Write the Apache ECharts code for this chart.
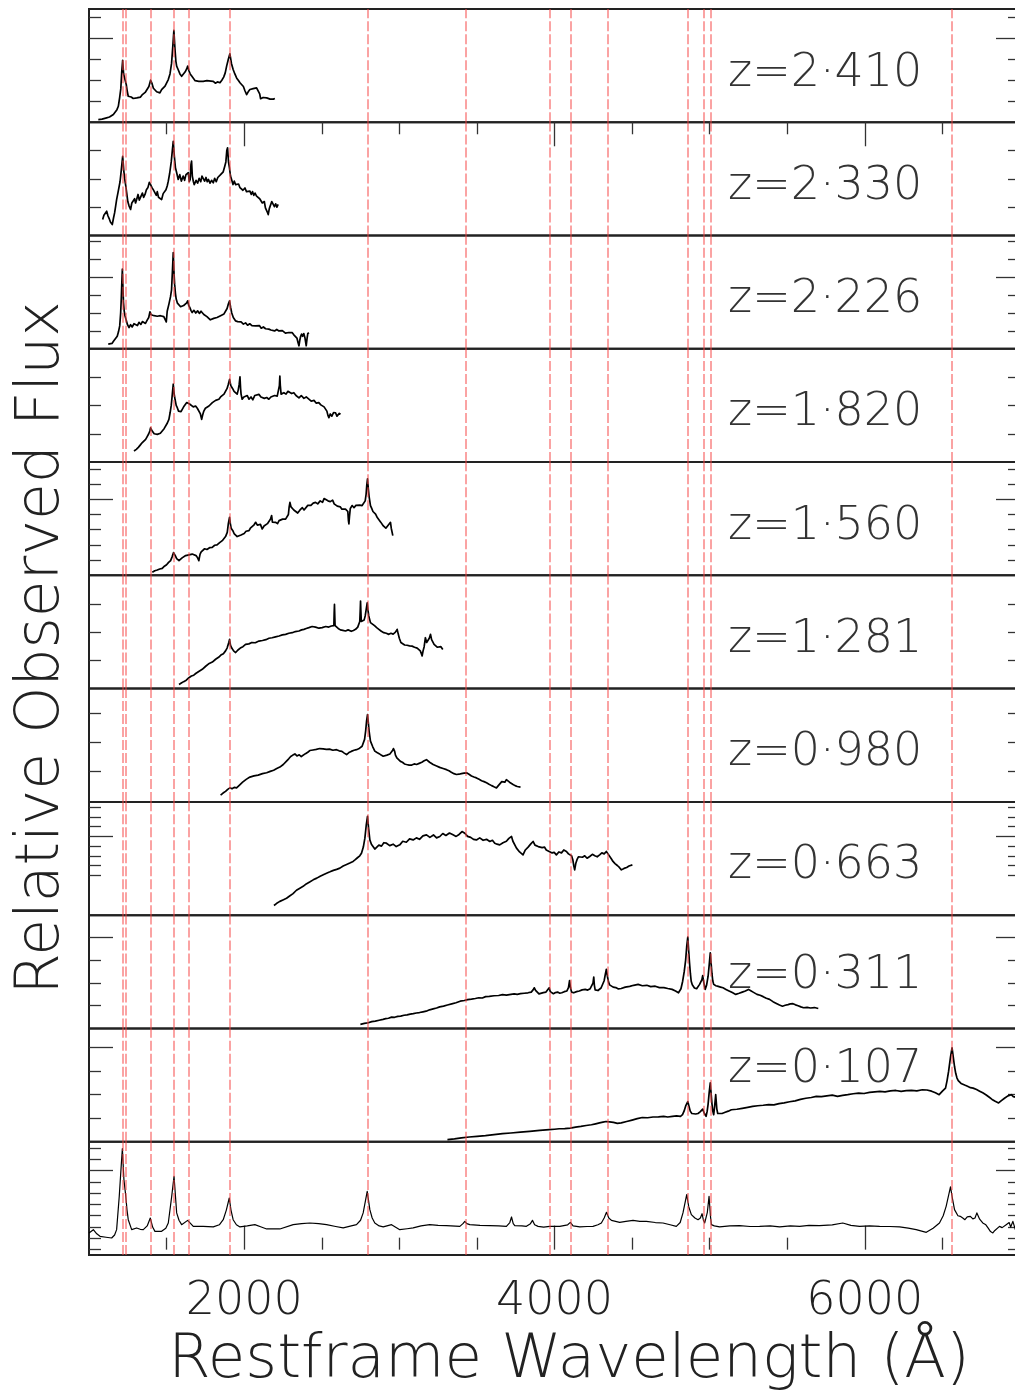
<!DOCTYPE html>
<html>
<head>
<meta charset="utf-8">
<script src="https://cdn.jsdelivr.net/npm/echarts@6/dist/echarts.min.js"></script>
<style>
  html, body { margin: 0; padding: 0; background: #ffffff; overflow: hidden; }
  #chart { width: 1030px; height: 1398px; }
</style>
</head>
<body>
<div id="chart"></div>
<script>
// Redshift of each spectrum, top panel first (the last panel is the composite)
const redshifts = ['2·410', '2·330', '2·226', '1·820', '1·560', '1·281', '0·980', '0·663', '0·311', '0·107', null];

// Restframe wavelength (Å) and relative flux pairs for each spectrum
const spec2410 = [[1060,0.13],[1072,0.18],[1084,0.15],[1096,0.22],[1108,0.2],[1120,0.27],[1132,0.25],[1144,0.33],[1157,0.37],[1168,0.42],[1180,0.6],[1189,0.76],[1198,1.2],[1205,1.6],[1211,2.4],[1217,2.95],[1223,2.3],[1232,2.03],[1240,1.8],[1247,1.45],[1253,1.24],[1262,1.15],[1272,1.2],[1285,1.13],[1296,1.22],[1308,1.16],[1320,1.25],[1332,1.2],[1342,1.3],[1350,1.32],[1362,1.42],[1374,1.5],[1386,1.7],[1397,2.0],[1406,1.85],[1415,1.62],[1425,1.56],[1436,1.45],[1446,1.5],[1457,1.4],[1468,1.55],[1479,1.6],[1490,1.72],[1500,1.8],[1511,2.03],[1522,2.3],[1532,2.8],[1540,3.6],[1547,4.37],[1554,3.5],[1560,2.9],[1565,2.67],[1575,2.5],[1586,2.3],[1597,2.19],[1608,2.28],[1620,2.4],[1630,2.55],[1636,2.67],[1644,2.45],[1652,2.3],[1662,2.2],[1672,2.11],[1684,1.98],[1696,2.05],[1708,1.95],[1720,2.0],[1736,1.95],[1748,1.9],[1760,1.98],[1772,1.9],[1786,1.96],[1801,1.95],[1814,1.86],[1828,1.92],[1844,1.88],[1856,2.0],[1868,2.15],[1878,2.35],[1887,2.67],[1898,3.0],[1908,3.26],[1918,2.8],[1929,2.51],[1940,2.3],[1952,2.1],[1962,2.0],[1973,1.88],[1984,1.85],[1995,1.7],[2005,1.5],[2016,1.32],[2026,1.45],[2037,1.56],[2048,1.5],[2058,1.6],[2069,1.55],[2080,1.64],[2090,1.55],[2100,1.35],[2106,1.12],[2112,1.08],[2122,1.18],[2133,1.1],[2145,1.16],[2156,1.2],[2167,1.1],[2178,1.16],[2188,1.1],[2198,1.13]];
const spec2330 = [[1088,0.57],[1096,0.72],[1104,0.65],[1114,0.86],[1122,0.7],[1130,0.6],[1138,0.48],[1146,0.42],[1150,0.39],[1158,0.62],[1165,0.8],[1172,1.05],[1178,1.27],[1188,1.55],[1200,1.9],[1208,2.3],[1217,2.8],[1224,2.3],[1230,2.0],[1237,1.75],[1243,1.51],[1250,1.2],[1258,1.05],[1268,0.92],[1276,1.15],[1285,1.1],[1294,1.3],[1300,1.15],[1307,1.27],[1316,1.45],[1324,1.25],[1335,1.3],[1344,1.5],[1352,1.35],[1361,1.45],[1370,1.62],[1380,1.7],[1389,1.88],[1397,1.8],[1405,1.7],[1414,1.62],[1425,1.57],[1434,1.42],[1440,1.55],[1448,1.35],[1458,1.38],[1468,1.27],[1478,1.48],[1486,1.42],[1496,1.62],[1504,1.75],[1511,1.92],[1520,2.2],[1530,2.6],[1537,3.0],[1543,3.33],[1550,2.8],[1557,2.4],[1565,2.22],[1575,1.98],[1585,2.15],[1595,1.92],[1607,2.1],[1616,1.95],[1625,2.15],[1633,2.08],[1640,2.22],[1646,1.9],[1652,1.98],[1657,2.5],[1661,2.63],[1666,2.1],[1672,1.92],[1678,1.8],[1683,1.74],[1690,1.95],[1700,1.85],[1710,2.02],[1720,1.9],[1728,2.1],[1736,2.04],[1745,1.92],[1754,2.05],[1762,1.9],[1770,1.98],[1780,1.85],[1790,1.95],[1801,1.86],[1810,2.02],[1820,1.9],[1830,2.05],[1840,1.98],[1848,2.15],[1855,2.1],[1865,2.25],[1875,2.45],[1882,2.6],[1888,3.0],[1893,3.1],[1899,2.6],[1905,2.4],[1912,2.1],[1919,1.98],[1928,1.8],[1936,1.92],[1945,1.8],[1954,1.75],[1964,1.82],[1973,1.69],[1982,1.72],[1992,1.6],[2005,1.68],[2015,1.55],[2026,1.62],[2037,1.57],[2046,1.45],[2054,1.55],[2062,1.42],[2070,1.5],[2080,1.39],[2090,1.42],[2100,1.3],[2110,1.35],[2117,1.15],[2123,1.1],[2130,1.2],[2137,0.98],[2145,0.95],[2150,0.82],[2155,0.74],[2162,0.95],[2170,1.0],[2178,1.2],[2187,1.16],[2195,1.02],[2203,1.12],[2211,1.0],[2219,1.1]];
const spec2226 = [[1124,0.26],[1136,0.35],[1148,0.3],[1160,0.45],[1172,0.54],[1182,0.7],[1190,0.95],[1198,1.28],[1204,2.0],[1208,2.8],[1212,3.8],[1215,4.45],[1218,3.6],[1222,2.6],[1227,2.1],[1232,1.84],[1240,1.6],[1248,1.35],[1258,1.19],[1268,1.35],[1278,1.22],[1290,1.4],[1301,1.38],[1312,1.3],[1322,1.48],[1334,1.36],[1344,1.52],[1354,1.47],[1364,1.42],[1375,1.6],[1385,1.75],[1393,2.07],[1401,1.9],[1410,2.0],[1420,1.85],[1430,1.95],[1440,1.82],[1450,1.9],[1460,1.85],[1470,1.92],[1482,1.8],[1494,1.84],[1498,1.5],[1504,2.1],[1515,2.5],[1525,2.9],[1532,3.3],[1538,4.4],[1543,5.38],[1548,4.2],[1552,3.6],[1557,3.1],[1562,2.78],[1570,2.55],[1580,2.5],[1590,2.35],[1601,2.31],[1610,2.42],[1620,2.45],[1628,2.55],[1636,2.68],[1643,2.42],[1650,2.3],[1657,2.15],[1665,2.03],[1676,2.15],[1688,2.0],[1700,2.12],[1712,1.98],[1722,2.1],[1730,2.03],[1740,1.92],[1750,1.98],[1760,1.8],[1770,1.72],[1782,1.62],[1794,1.56],[1804,1.7],[1814,1.62],[1825,1.75],[1836,1.68],[1848,1.85],[1859,1.84],[1870,1.95],[1880,2.05],[1890,2.25],[1898,2.5],[1906,2.68],[1913,2.3],[1920,2.0],[1930,1.75],[1945,1.56],[1958,1.52],[1968,1.42],[1980,1.5],[1995,1.38],[2009,1.45],[2022,1.32],[2036,1.4],[2050,1.3],[2062,1.38],[2074,1.28],[2086,1.22],[2098,1.3],[2110,1.15],[2124,1.22],[2138,1.12],[2150,1.18],[2159,1.1],[2172,1.05],[2184,1.12],[2196,1.0],[2210,1.08],[2224,1.0],[2236,0.92],[2246,1.02],[2255,0.95],[2266,0.88],[2278,0.98],[2288,0.91],[2300,0.8],[2310,0.9],[2320,0.78],[2331,0.73],[2340,0.6],[2347,0.35],[2353,0.17],[2358,0.45],[2364,0.7],[2370,0.82],[2376,0.7],[2384,0.85],[2392,0.6],[2400,0.17],[2405,0.55],[2410,0.85],[2417,0.91]];
const spec1820 = [[1290,0.39],[1305,0.45],[1318,0.52],[1330,0.6],[1342,0.68],[1354,0.72],[1365,0.8],[1375,0.9],[1385,1.0],[1392,1.1],[1397,1.21],[1404,1.12],[1412,1.1],[1420,1.0],[1430,1.04],[1440,0.98],[1450,1.05],[1460,1.02],[1472,1.1],[1484,1.18],[1495,1.25],[1505,1.38],[1515,1.51],[1523,1.75],[1530,2.0],[1537,2.4],[1543,2.75],[1549,2.4],[1555,2.2],[1562,2.0],[1569,1.92],[1577,1.8],[1585,1.85],[1593,1.78],[1601,1.86],[1610,1.95],[1620,2.0],[1630,2.1],[1638,2.16],[1648,2.05],[1660,2.05],[1672,1.95],[1687,1.98],[1698,1.9],[1710,1.85],[1718,1.7],[1726,1.51],[1732,1.65],[1740,1.8],[1750,1.9],[1762,1.88],[1773,1.98],[1785,2.0],[1795,2.1],[1805,2.05],[1816,2.18],[1826,2.12],[1837,2.22],[1848,2.3],[1858,2.25],[1870,2.4],[1880,2.45],[1890,2.6],[1898,2.75],[1906,2.92],[1914,2.7],[1925,2.6],[1935,2.5],[1945,2.45],[1955,2.4],[1962,2.55],[1968,2.75],[1973,3.01],[1977,2.6],[1980,2.4],[1987,2.22],[1998,2.3],[2010,2.25],[2020,2.35],[2031,2.22],[2044,2.3],[2056,2.2],[2068,2.35],[2080,2.3],[2095,2.39],[2108,2.3],[2120,2.35],[2130,2.25],[2145,2.28],[2159,2.22],[2172,2.3],[2184,2.25],[2196,2.35],[2206,2.28],[2213,2.33],[2222,2.4],[2227,2.7],[2230,3.04],[2233,2.7],[2238,2.4],[2245,2.33],[2256,2.45],[2270,2.4],[2282,2.5],[2293,2.51],[2306,2.42],[2320,2.45],[2334,2.35],[2353,2.27],[2368,2.35],[2385,2.25],[2400,2.3],[2417,2.22],[2432,2.15],[2450,2.18],[2465,2.08],[2481,2.1],[2494,2.02],[2505,2.05],[2515,1.95],[2525,1.92],[2533,1.8],[2540,1.65],[2546,1.57],[2555,1.7],[2565,1.62],[2576,1.75],[2589,1.74],[2598,1.62],[2605,1.6],[2613,1.72],[2621,1.69]];
const spec1560 = [[1408,0.2],[1424,0.3],[1440,0.35],[1456,0.42],[1472,0.46],[1486,0.6],[1500,0.7],[1513,0.85],[1526,0.97],[1535,1.2],[1540,1.3],[1545,1.5],[1549,1.62],[1556,1.3],[1565,1.1],[1572,1.05],[1580,0.97],[1590,1.1],[1600,1.15],[1612,1.25],[1623,1.3],[1634,1.25],[1645,1.35],[1655,1.45],[1665,1.4],[1677,1.35],[1690,1.3],[1700,1.15],[1708,0.97],[1712,1.2],[1716,1.4],[1723,1.55],[1730,1.62],[1745,1.75],[1760,1.7],[1777,1.82],[1794,1.84],[1810,1.98],[1825,2.0],[1842,2.15],[1859,2.28],[1870,2.4],[1880,2.55],[1891,2.83],[1898,3.4],[1906,3.82],[1911,3.4],[1916,3.1],[1927,2.94],[1935,2.75],[1945,2.7],[1955,2.55],[1966,2.5],[1980,2.65],[1990,2.6],[2000,2.75],[2012,2.9],[2022,2.8],[2031,2.94],[2040,3.1],[2050,3.2],[2062,3.3],[2074,3.49],[2085,3.3],[2095,3.2],[2105,3.35],[2116,3.05],[2128,3.25],[2140,3.3],[2150,3.4],[2162,3.5],[2170,3.7],[2177,3.93],[2182,3.5],[2190,3.4],[2202,3.49],[2215,3.4],[2225,3.6],[2235,3.55],[2248,3.7],[2258,3.6],[2267,3.7],[2276,3.8],[2285,4.0],[2290,4.5],[2295,4.8],[2302,4.5],[2310,4.4],[2320,4.3],[2331,4.26],[2345,4.1],[2360,4.3],[2375,4.45],[2386,4.3],[2396,4.36],[2410,4.6],[2420,4.5],[2430,4.6],[2445,4.75],[2460,4.8],[2474,4.7],[2490,4.9],[2505,4.8],[2515,5.05],[2525,5.02],[2540,4.9],[2555,4.85],[2570,4.95],[2580,4.7],[2589,4.69],[2600,4.55],[2610,4.65],[2620,4.5],[2630,4.35],[2642,4.45],[2653,4.36],[2662,4.3],[2668,4.2],[2672,3.6],[2675,3.38],[2679,3.9],[2684,4.4],[2696,4.59],[2708,4.45],[2720,4.6],[2730,4.5],[2745,4.62],[2760,4.59],[2772,4.7],[2780,4.9],[2786,5.35],[2790,5.9],[2795,6.34],[2800,5.7],[2805,5.2],[2814,4.59],[2822,4.4],[2830,4.2],[2840,4.1],[2847,4.03],[2858,3.8],[2870,3.7],[2880,3.5],[2889,3.38],[2897,3.25],[2905,3.2],[2913,3.1],[2921,3.05],[2928,3.3],[2935,3.4],[2943,3.49],[2948,3.1],[2953,3.2],[2958,2.61]];
const spec1281 = [[1580,0.15],[1595,0.2],[1610,0.25],[1627,0.3],[1644,0.39],[1660,0.45],[1675,0.48],[1690,0.55],[1710,0.62],[1730,0.69],[1752,0.8],[1775,0.9],[1795,0.95],[1816,1.05],[1835,1.12],[1850,1.2],[1866,1.25],[1880,1.35],[1890,1.45],[1895,1.5],[1901,1.65],[1906,1.76],[1912,1.55],[1920,1.45],[1932,1.35],[1945,1.29],[1960,1.38],[1975,1.45],[1992,1.5],[2009,1.58],[2030,1.6],[2050,1.65],[2072,1.64],[2095,1.7],[2118,1.72],[2140,1.75],[2160,1.8],[2180,1.82],[2202,1.85],[2225,1.88],[2246,1.92],[2267,1.94],[2288,1.98],[2310,2.0],[2330,2.04],[2353,2.06],[2370,2.1],[2385,2.12],[2400,2.15],[2417,2.18],[2438,2.22],[2460,2.2],[2482,2.16],[2503,2.18],[2525,2.22],[2545,2.2],[2562,2.24],[2578,2.25],[2580,2.7],[2582,3.01],[2584,2.6],[2586,2.25],[2593,2.18],[2606,2.15],[2620,2.1],[2636,2.08],[2653,2.06],[2670,2.1],[2690,2.05],[2704,2.08],[2718,2.12],[2732,2.2],[2745,2.4],[2748,2.8],[2750,3.13],[2752,2.8],[2755,2.4],[2765,2.36],[2773,2.45],[2780,2.6],[2787,2.85],[2793,3.07],[2798,2.8],[2803,2.6],[2814,2.36],[2826,2.3],[2840,2.25],[2854,2.18],[2868,2.12],[2884,2.05],[2900,2.0],[2916,1.98],[2932,1.94],[2946,1.98],[2960,1.95],[2975,2.02],[2986,2.12],[2993,1.95],[3000,1.8],[3010,1.65],[3018,1.58],[3034,1.56],[3050,1.55],[3066,1.53],[3082,1.52],[3098,1.48],[3115,1.45],[3125,1.4],[3135,1.35],[3142,1.25],[3147,1.17],[3153,1.35],[3160,1.5],[3168,1.82],[3176,1.65],[3185,1.6],[3193,1.8],[3201,1.94],[3208,1.75],[3215,1.7],[3224,1.58],[3233,1.52],[3244,1.48],[3255,1.45],[3268,1.5],[3280,1.4]];
const spec0980 = [[1848,0.15],[1864,0.22],[1880,0.28],[1894,0.35],[1908,0.4],[1922,0.37],[1936,0.42],[1951,0.4],[1970,0.5],[1990,0.6],[2013,0.7],[2037,0.78],[2063,0.82],[2090,0.85],[2118,0.9],[2145,0.93],[2168,0.98],[2190,1.02],[2210,1.08],[2230,1.13],[2252,1.22],[2273,1.34],[2287,1.42],[2300,1.5],[2314,1.55],[2327,1.59],[2340,1.52],[2355,1.56],[2368,1.5],[2380,1.51],[2395,1.6],[2410,1.65],[2423,1.71],[2444,1.73],[2465,1.75],[2487,1.78],[2509,1.77],[2530,1.75],[2550,1.76],[2572,1.72],[2595,1.74],[2612,1.7],[2630,1.68],[2645,1.62],[2660,1.57],[2675,1.64],[2690,1.68],[2708,1.72],[2724,1.74],[2738,1.77],[2750,1.8],[2760,1.86],[2767,1.92],[2776,2.1],[2783,2.4],[2789,2.75],[2795,2.97],[2800,2.7],[2805,2.4],[2810,2.2],[2814,2.04],[2828,1.85],[2842,1.69],[2856,1.64],[2870,1.6],[2883,1.55],[2896,1.51],[2908,1.54],[2920,1.55],[2930,1.58],[2939,1.59],[2948,1.62],[2955,1.7],[2962,1.78],[2965,1.83],[2970,1.68],[2975,1.55],[2984,1.45],[2993,1.39],[3007,1.33],[3020,1.3],[3033,1.24],[3046,1.22],[3063,1.2],[3080,1.2],[3096,1.24],[3111,1.22],[3128,1.26],[3145,1.3],[3160,1.35],[3175,1.39],[3185,1.34],[3195,1.3],[3206,1.26],[3218,1.22],[3240,1.17],[3260,1.12],[3282,1.08],[3304,1.04],[3320,1.0],[3335,0.95],[3352,0.9],[3368,0.87],[3384,0.88],[3400,0.9],[3417,0.92],[3433,0.93],[3449,0.88],[3465,0.82],[3481,0.78],[3497,0.75],[3514,0.7],[3530,0.65],[3546,0.62],[3562,0.58],[3578,0.53],[3595,0.48],[3610,0.44],[3626,0.4],[3638,0.48],[3650,0.55],[3660,0.62],[3670,0.65],[3680,0.6],[3690,0.69],[3700,0.64],[3710,0.6],[3721,0.56],[3733,0.52],[3746,0.48],[3760,0.45],[3770,0.5],[3781,0.43]];
const spec0663 = [[2192,0.88],[2210,1.1],[2230,1.3],[2250,1.45],[2273,1.63],[2293,1.85],[2315,2.1],[2337,2.45],[2359,2.66],[2380,2.85],[2400,3.1],[2422,3.3],[2445,3.52],[2468,3.7],[2490,3.9],[2510,4.05],[2531,4.21],[2553,4.35],[2575,4.5],[2596,4.6],[2617,4.73],[2638,4.95],[2660,5.1],[2681,5.25],[2702,5.42],[2716,5.6],[2730,5.8],[2745,6.0],[2756,6.27],[2768,6.9],[2778,7.82],[2787,9.2],[2795,10.06],[2802,8.8],[2810,7.64],[2820,7.2],[2830,7.0],[2842,6.7],[2853,6.79],[2868,7.1],[2885,7.0],[2900,7.35],[2917,7.3],[2938,7.05],[2960,7.2],[2980,6.95],[3003,7.13],[3022,7.5],[3045,7.4],[3066,7.75],[3089,7.64],[3110,7.85],[3130,7.7],[3152,8.05],[3175,8.16],[3197,7.9],[3220,8.15],[3240,7.85],[3261,7.99],[3280,8.3],[3300,8.1],[3323,8.35],[3346,8.16],[3366,8.0],[3385,8.2],[3404,8.5],[3422,8.33],[3440,8.0],[3460,7.9],[3478,7.7],[3497,7.64],[3518,7.85],[3540,7.6],[3562,7.7],[3583,7.48],[3600,7.6],[3615,7.3],[3630,7.2],[3647,7.13],[3668,7.35],[3690,7.5],[3706,7.8],[3723,7.99],[3732,7.5],[3740,7.3],[3755,6.79],[3765,6.7],[3775,6.4],[3786,6.55],[3797,6.1],[3812,6.6],[3830,6.9],[3846,7.2],[3862,7.48],[3874,7.1],[3885,7.2],[3895,6.95],[3905,7.13],[3920,6.85],[3935,6.9],[3947,6.6],[3959,6.61],[3972,6.4],[3985,6.3],[3998,6.35],[4012,6.1],[4028,6.4],[4045,6.3],[4060,6.6],[4077,6.45],[4090,6.2],[4102,6.1],[4110,6.0],[4118,5.6],[4124,5.0],[4130,4.55],[4137,5.2],[4145,5.6],[4154,5.9],[4163,6.1],[4180,5.85],[4195,6.0],[4210,5.75],[4227,5.93],[4244,6.15],[4260,6.0],[4275,5.9],[4291,6.1],[4305,6.3],[4320,6.2],[4334,6.45],[4345,6.2],[4355,6.0],[4366,5.7],[4377,5.42],[4390,5.2],[4405,5.0],[4418,4.8],[4431,4.55],[4448,4.7],[4465,4.8],[4480,4.95],[4490,4.75],[4502,5.07]];
const spec0311 = [[2749,0.18],[2775,0.22],[2800,0.25],[2822,0.3],[2845,0.32],[2870,0.36],[2895,0.4],[2912,0.43],[2930,0.45],[2950,0.5],[2970,0.49],[2990,0.53],[3009,0.54],[3030,0.58],[3050,0.6],[3070,0.63],[3090,0.65],[3110,0.68],[3130,0.7],[3152,0.73],[3173,0.76],[3195,0.82],[3218,0.86],[3240,0.9],[3260,0.95],[3285,0.98],[3310,1.03],[3338,1.08],[3365,1.13],[3392,1.2],[3419,1.23],[3440,1.27],[3465,1.29],[3490,1.32],[3512,1.35],[3535,1.34],[3556,1.4],[3580,1.41],[3610,1.44],[3640,1.45],[3665,1.49],[3690,1.47],[3719,1.5],[3740,1.52],[3760,1.5],[3780,1.53],[3805,1.55],[3829,1.57],[3850,1.6],[3862,1.7],[3870,1.79],[3878,1.68],[3890,1.6],[3900,1.52],[3911,1.54],[3928,1.58],[3945,1.6],[3957,1.66],[3966,1.79],[3973,1.62],[3980,1.55],[3993,1.53],[4006,1.58],[4020,1.6],[4034,1.55],[4047,1.57],[4063,1.62],[4080,1.65],[4090,1.8],[4097,2.11],[4103,1.8],[4110,1.6],[4117,1.55],[4124,1.57],[4142,1.62],[4160,1.65],[4178,1.7],[4198,1.72],[4214,1.69],[4230,1.75],[4242,1.8],[4248,2.0],[4253,2.26],[4257,1.9],[4262,1.7],[4271,1.64],[4280,1.67],[4290,1.7],[4300,1.78],[4307,1.86],[4320,2.1],[4328,2.4],[4334,2.6],[4341,2.3],[4348,2.05],[4355,1.92],[4362,1.86],[4378,1.82],[4395,1.8],[4412,1.74],[4430,1.76],[4456,1.82],[4485,1.85],[4510,1.9],[4539,1.94],[4566,1.88],[4595,1.9],[4620,1.84],[4649,1.86],[4676,1.8],[4705,1.8],[4730,1.76],[4758,1.72],[4770,1.68],[4780,1.65],[4790,1.6],[4799,1.57],[4808,1.62],[4815,1.75],[4826,2.08],[4836,2.5],[4845,3.0],[4852,3.6],[4859,4.02],[4865,3.4],[4870,2.9],[4876,2.4],[4881,2.08],[4888,1.92],[4895,1.85],[4902,1.78],[4908,1.72],[4916,1.75],[4925,1.8],[4935,1.94],[4945,2.0],[4950,2.15],[4955,2.33],[4959,2.15],[4963,2.0],[4967,1.85],[4971,1.72],[4980,1.9],[4990,2.3],[4997,2.8],[5004,3.33],[5010,2.8],[5015,2.4],[5020,2.1],[5026,1.94],[5040,1.88],[5055,1.85],[5070,1.82],[5086,1.79],[5105,1.72],[5125,1.65],[5146,1.58],[5168,1.5],[5190,1.55],[5210,1.6],[5230,1.65],[5250,1.72],[5265,1.66],[5280,1.6],[5292,1.54],[5305,1.5],[5325,1.46],[5345,1.4],[5365,1.33],[5386,1.28],[5408,1.18],[5430,1.1],[5450,1.03],[5469,0.98],[5487,1.02],[5505,1.05],[5520,1.08],[5537,1.09],[5553,1.04],[5570,1.0],[5588,0.95],[5605,0.91],[5628,0.93],[5650,0.9],[5675,0.92],[5700,0.88]];
const spec0107 = [[3310,0.09],[3355,0.12],[3400,0.16],[3450,0.2],[3501,0.23],[3555,0.26],[3610,0.3],[3665,0.34],[3719,0.37],[3780,0.41],[3840,0.44],[3905,0.48],[3966,0.51],[4000,0.53],[4030,0.55],[4066,0.56],[4102,0.58],[4136,0.62],[4170,0.65],[4204,0.69],[4238,0.72],[4265,0.76],[4290,0.8],[4312,0.83],[4332,0.86],[4355,0.84],[4380,0.82],[4405,0.78],[4430,0.8],[4465,0.86],[4500,0.92],[4533,0.98],[4566,1.03],[4600,1.02],[4635,1.05],[4670,1.06],[4703,1.08],[4730,1.05],[4760,1.08],[4786,1.1],[4812,1.08],[4825,1.15],[4835,1.3],[4847,1.55],[4859,1.71],[4867,1.5],[4875,1.3],[4885,1.2],[4895,1.15],[4910,1.18],[4925,1.2],[4940,1.28],[4955,1.39],[4960,1.3],[4966,1.2],[4977,1.08],[4984,1.3],[4990,1.6],[4997,2.1],[5004,2.5],[5010,2.0],[5015,1.6],[5020,1.3],[5026,1.15],[5032,1.5],[5039,2.0],[5046,1.4],[5052,1.2],[5058,1.15],[5080,1.2],[5100,1.25],[5120,1.3],[5140,1.36],[5175,1.38],[5210,1.42],[5245,1.46],[5277,1.5],[5310,1.53],[5345,1.55],[5380,1.58],[5414,1.57],[5447,1.62],[5480,1.65],[5515,1.7],[5551,1.74],[5585,1.8],[5620,1.85],[5655,1.88],[5687,1.93],[5720,1.92],[5755,1.95],[5790,1.98],[5824,1.93],[5857,1.97],[5890,2.0],[5925,2.04],[5960,2.07],[5995,2.05],[6030,2.1],[6064,2.12],[6097,2.14],[6130,2.12],[6165,2.16],[6200,2.18],[6234,2.14],[6267,2.17],[6300,2.18],[6335,2.16],[6371,2.21],[6400,2.2],[6430,2.15],[6455,2.08],[6479,2.0],[6490,2.08],[6500,2.15],[6510,2.2],[6520,2.28],[6530,2.6],[6540,3.0],[6552,3.6],[6562,3.99],[6570,3.6],[6578,3.2],[6586,2.9],[6594,2.71],[6602,2.6],[6610,2.55],[6620,2.48],[6630,2.43],[6647,2.4],[6665,2.35],[6681,2.3],[6698,2.28],[6720,2.22],[6740,2.15],[6760,2.08],[6780,2.0],[6800,1.9],[6820,1.8],[6840,1.72],[6862,1.65],[6880,1.75],[6900,1.85],[6922,1.95],[6944,2.0],[6957,1.92],[6970,1.9],[6985,1.98],[7000,1.95]];
const specComposite = [[1000,1.48],[1028,1.77],[1050,1.4],[1071,1.18],[1110,1.1],[1146,1.03],[1165,1.3],[1178,1.77],[1195,4.72],[1208,7.5],[1215,8.94],[1225,6.2],[1236,4.87],[1245,3.5],[1253,2.65],[1275,1.77],[1307,1.92],[1330,1.8],[1350,1.77],[1375,2.1],[1395,2.8],[1410,2.0],[1425,1.62],[1468,1.62],[1495,1.9],[1511,2.36],[1533,4.72],[1548,6.49],[1565,3.25],[1580,2.6],[1597,2.21],[1636,2.59],[1672,2.06],[1736,2.06],[1801,2.01],[1840,2.2],[1865,2.65],[1885,3.5],[1904,4.57],[1915,3.5],[1929,2.65],[1950,2.2],[1973,2.01],[2020,2.1],[2069,2.21],[2110,2.0],[2145,1.83],[2230,1.83],[2316,2.21],[2370,2.3],[2423,2.36],[2480,2.3],[2531,2.21],[2590,2.05],[2638,1.92],[2690,2.1],[2724,2.21],[2750,2.6],[2767,3.25],[2793,5.16],[2810,3.54],[2825,2.8],[2842,2.36],[2870,2.1],[2896,2.01],[2950,2.21],[3003,1.77],[3050,1.85],[3089,1.92],[3140,2.1],[3196,2.21],[3250,2.15],[3304,2.12],[3390,2.06],[3410,2.3],[3422,2.5],[3435,2.3],[3454,2.21],[3520,2.15],[3583,2.12],[3640,2.1],[3690,2.06],[3712,2.4],[3723,2.89],[3734,2.3],[3744,2.12],[3790,2.1],[3819,2.06],[3845,2.3],[3858,2.59],[3872,2.2],[3894,2.06],[3930,2.0],[3969,2.06],[4000,2.06],[4034,2.06],[4085,2.2],[4102,2.41],[4120,2.1],[4163,2.01],[4210,2.05],[4248,2.06],[4280,2.2],[4302,2.36],[4320,2.8],[4335,3.3],[4350,2.8],[4367,2.59],[4420,2.41],[4460,2.5],[4506,2.59],[4550,2.5],[4592,2.5],[4650,2.4],[4699,2.36],[4745,2.2],[4785,2.06],[4810,2.4],[4828,3.25],[4852,4.87],[4865,3.8],[4882,3.1],[4905,2.8],[4925,2.65],[4940,2.8],[4951,3.18],[4960,2.6],[4968,2.36],[4985,3.3],[4996,4.72],[5005,3.0],[5011,2.21],[5030,2.1],[5064,2.01],[5130,2.1],[5193,2.12],[5260,2.05],[5322,2.06],[5390,2.1],[5451,2.01],[5520,2.1],[5580,2.06],[5640,2.15],[5708,2.12],[5790,2.2],[5858,2.36],[5910,2.15],[5966,2.06],[6030,2.1],[6095,2.06],[6160,2.05],[6224,2.01],[6280,1.9],[6331,1.77],[6396,1.53],[6440,1.9],[6481,2.36],[6505,3.0],[6524,3.83],[6552,5.55],[6565,4.5],[6578,3.54],[6600,3.0],[6615,2.95],[6631,2.8],[6645,2.65],[6660,2.9],[6680,2.95],[6696,2.72],[6710,2.8],[6722,3.25],[6740,2.7],[6760,2.36],[6780,2.2],[6795,1.9],[6810,1.6],[6825,1.48],[6838,1.7],[6850,1.8],[6868,2.06],[6885,1.95],[6911,2.21],[6930,2.4],[6940,2.0],[6954,2.5],[6970,1.77],[6985,2.2],[7000,2.1]];

const spectra = [spec2410, spec2330, spec2226, spec1820, spec1560, spec1281, spec0980, spec0663, spec0311, spec0107, specComposite];

// Emission lines marked across every panel (Å)
const emissionLines = [1216, 1240, 1400, 1549, 1640, 1909, 2798, 3426, 3969, 4102, 4340, 4861, 4959, 5007, 6563];

// Flux axis range and tick values of each panel
const fluxRanges = [[0,5.39],[0,4.0],[0,6.33],[0,4.0],[0,7.45],[0,4.05],[-0.09,3.88],[-0.12,11.56],[0,4.99],[0,4.82],[-0.47,9.55]];
const fluxMinorTicks = [[1,2,3,5],[1,2,3],[1,2,3,5,6],[1,2,3],[1,2,3,4,6,7],[1,2,3],[1,2,3],[4,5,6,7,9,10,11],[1,2,3],[1,2,3],[0,1,2,3,4,5,6,8,9]];
const fluxMajorTicks = [[4],[],[4],[],[5],[],[],[8],[4],[4],[7]];

// Wavelength axis
const waveRange = [1000, 7000];
const waveMinorTicks = [1500, 2500, 3000, 3500, 4500, 5000, 5500, 6500];
const waveMajorTicks = [2000, 4000, 6000];

// ---- layout ----
const PLOT_LEFT = 89, PLOT_WIDTH = 931, PLOT_TOP = 9, PANEL_H = 113.27;
const labelShift = [4, 4, 4, 4, 4, 4, 4, 4, 0, -19, 0];
const FONT = '"DejaVu Sans", sans-serif';
const INK = '#222';

const grids = [], xAxes = [], yAxes = [], series = [], graphics = [];
const nPanels = spectra.length;
const tickLine = { color: '#333', width: 1.3 };

function fluxAxis(i, side, ticks, len) {
  return {
    type: 'value', gridIndex: i, position: side,
    min: fluxRanges[i][0], max: fluxRanges[i][1],
    axisLine: { show: false }, splitLine: { show: false }, axisLabel: { show: false },
    axisTick: ticks.length ? { show: true, inside: true, length: len, customValues: ticks, lineStyle: tickLine }
                           : { show: false }
  };
}

function waveAxis(i, opts) {
  return Object.assign({
    type: 'value', gridIndex: i, min: waveRange[0], max: waveRange[1],
    axisLine: { show: false }, splitLine: { show: false },
    axisLabel: { show: false }, axisTick: { show: false }
  }, opts);
}

for (let i = 0; i < nPanels; i++) {
  const top = PLOT_TOP + i * PANEL_H;
  grids.push({ left: PLOT_LEFT, width: PLOT_WIDTH, top: top, height: PANEL_H,
    show: true, borderColor: INK, borderWidth: 2, backgroundColor: 'transparent' });

  const isTop = i === 0, isBottom = i === nPanels - 1;
  const mainX = xAxes.length;
  if (isTop || isBottom) {
    const pos = isTop ? 'top' : 'bottom';
    xAxes.push(waveAxis(i, { position: pos,
      axisTick: { show: true, inside: true, length: 12, customValues: waveMinorTicks, lineStyle: tickLine },
      axisLabel: isBottom ? { show: true, customValues: waveMajorTicks, margin: 24, fontSize: 46,
        fontFamily: FONT, fontWeight: 200, color: INK, formatter: v => String(v) } : { show: false } }));
    xAxes.push(waveAxis(i, { position: pos,
      axisTick: { show: true, inside: true, length: 24, customValues: waveMajorTicks, lineStyle: tickLine } }));
  } else {
    xAxes.push(waveAxis(i, {}));
  }

  const mainY = yAxes.length;
  yAxes.push(fluxAxis(i, 'left', fluxMinorTicks[i], 12));
  yAxes.push(fluxAxis(i, 'left', fluxMajorTicks[i], 24));
  yAxes.push(fluxAxis(i, 'right', fluxMinorTicks[i], 12));
  yAxes.push(fluxAxis(i, 'right', fluxMajorTicks[i], 24));

  series.push({
    type: 'line', xAxisIndex: mainX, yAxisIndex: mainY, data: spectra[i],
    showSymbol: false, symbol: 'none', animation: false, z: 3,
    lineStyle: { color: '#000', width: isBottom ? 1.2 : 1.7, join: 'round' },
    markLine: {
      silent: true, symbol: ['none', 'none'], animation: false, z: 4,
      label: { show: false },
      lineStyle: { color: 'rgba(245,70,70,0.55)', type: [10, 3], width: 1.8 },
      data: emissionLines.map(w => ({ xAxis: w }))
    }
  });

  if (redshifts[i]) {
    graphics.push({
      type: 'text', left: 728, top: top + PANEL_H / 2 + labelShift[i] - 19, z: 10,
      style: { text: 'z=' + redshifts[i], fontSize: 46, fontFamily: FONT, fontWeight: 200, fill: '#333' }
    });
  }
}

// axis titles
graphics.push({
  type: 'text', x: 569, y: 1361, z: 10,
  style: { text: 'Restframe Wavelength (Å)', fontSize: 61, fontFamily: FONT, fontWeight: 200,
    fill: INK, align: 'center', verticalAlign: 'middle', textAlign: 'center', textVerticalAlign: 'middle' }
});
graphics.push({
  type: 'text', x: 42, y: 648, rotation: Math.PI / 2, z: 10,
  style: { text: 'Relative Observed Flux', fontSize: 60, fontFamily: FONT, fontWeight: 200,
    fill: INK, align: 'center', verticalAlign: 'middle', textAlign: 'center', textVerticalAlign: 'middle' }
});

const chart = echarts.init(document.getElementById('chart'), null, { renderer: 'canvas' });
chart.setOption({
  backgroundColor: '#ffffff',
  animation: false,
  grid: grids, xAxis: xAxes, yAxis: yAxes, series: series, graphic: graphics
});
</script>
</body>
</html>
